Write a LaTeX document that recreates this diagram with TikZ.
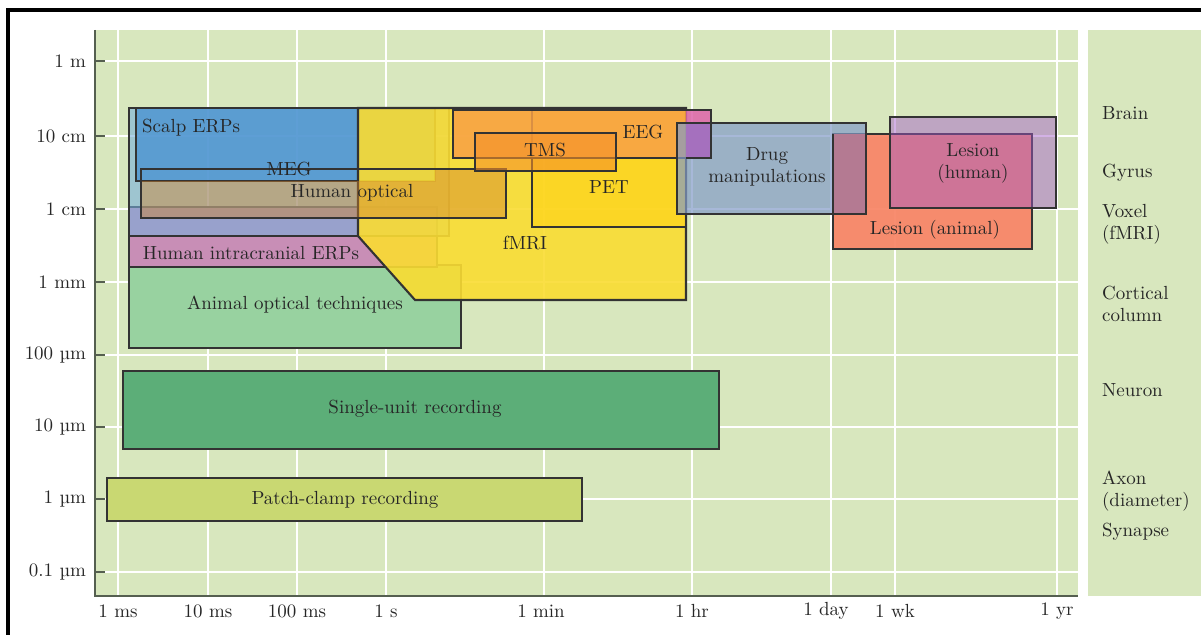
\documentclass[tikz,border=0pt]{standalone}
\usepackage{fontspec}
\usepackage{tikz}
\usetikzlibrary{shadows}

\definecolor{plotbg}{RGB}{216,231,190}
\definecolor{axisgray}{RGB}{85,95,80}
\definecolor{patchc}{RGB}{201,216,114}
\definecolor{singleu}{RGB}{92,174,120}
\definecolor{animalo}{RGB}{152,210,160}
\definecolor{hintra}{RGB}{200,142,182}
\definecolor{megc}{RGB}{120,175,220}
\definecolor{scalpc}{RGB}{80,150,210}
\definecolor{fmric}{RGB}{250,220,50}
\definecolor{hoptc}{RGB}{209,131,44}
\definecolor{petc}{RGB}{255,210,20}
\definecolor{eegc}{RGB}{248,160,70}
\definecolor{eegpink}{RGB}{222,100,170}
\definecolor{eegdrug}{RGB}{165,112,190}
\definecolor{tmsc}{RGB}{245,145,40}
\definecolor{drugc}{RGB}{130,155,200}
\definecolor{druglesa}{RGB}{180,122,146}
\definecolor{lesac}{RGB}{248,135,105}
\definecolor{leshc}{RGB}{162,91,200}

\tikzset{
    method/.style={draw=black!80, line width=.8pt},
    shadowed/.style={drop shadow={shadow xshift=.7pt, shadow yshift=-.7pt, opacity=.35}},
    gridline/.style={white, line width=1pt},
    axisline/.style={axisgray, line width=.7pt},
    lbl/.style={text=black!85, inner sep=1pt}
}

\begin{document}
\begin{tikzpicture}[x=0.02cm, y=-0.02cm, font=\fontsize{10.8pt}{12.5pt}\selectfont]

    \useasboundingbox (0,0) rectangle (1201,635);
    \fill[white] (0,0) rectangle (1201,635);

    \fill[plotbg] (95,30) rectangle (1078,596);
    \fill[plotbg] (1088,30) rectangle (1201,596);

    \foreach \x in {118,208,297,386,544,692,831,895,1057}
        \draw[gridline] (\x,30) -- (\x,596);
    \foreach \y in {61,136,209,282,355,427,499,572}
        \draw[gridline] (95,\y) -- (1078,\y);

    \draw[axisline] (95,30) -- (95,596) -- (1078,596);
    \foreach \y in {61,136,209,282,355,427,499,572}
        \draw[axisline] (95,\y) -- (105,\y);

    \draw[line width=1.8pt] (8,635) -- (8,10) -- (1201,10);

    \filldraw[method, shadowed, fill=patchc] (107,478) rectangle (582,521);
    \filldraw[method, shadowed, fill=singleu] (123,371) rectangle (719,449);
    \filldraw[method, shadowed, fill=animalo] (129,265) rectangle (461,348);
    \filldraw[method, fill=hintra] (129,207) rectangle (437,267);

    \filldraw[method, fill=megc, fill opacity=.6] (129,108) rectangle (449,236);
    \filldraw[method, fill=scalpc, fill opacity=.85] (136,108) rectangle (435,181);

    \filldraw[method, line width=1.2pt, fill=fmric, fill opacity=.9]
        (358,108) -- (686,108) -- (686,300) -- (415,300) -- (358,236) -- cycle;

    % human optical sits under the scalp box on the left
    \fill[hoptc, opacity=.45] (141,181) rectangle (506,218);
    \fill[hoptc, opacity=.45] (435,169) rectangle (506,181);
    \draw[method] (141,169) rectangle (506,218);

    \filldraw[method, fill=petc, fill opacity=.6] (532,110) rectangle (686,227);

    \fill[eegc, opacity=.85] (453,110) rectangle (686,158);
    \fill[eegpink, opacity=.85] (686,110) rectangle (711,158);
    \draw[method] (453,110) rectangle (711,158);
    \filldraw[method, fill=tmsc, fill opacity=.6] (475,133) rectangle (616,171);

    \filldraw[method, fill=lesac, fill opacity=.95] (833,134) rectangle (1032,249);
    \fill[drugc, opacity=.7] (677,123) rectangle (866,214);
    \fill[eegdrug] (686,123) rectangle (711,158);
    \fill[druglesa] (833,134) rectangle (866,214);
    \draw[method] (677,123) rectangle (866,214);
    \draw[method] (686,110) -- (711,110) -- (711,158) -- (686,158);
    \draw[method] (833,134) -- (833,249);
    \filldraw[method, fill=leshc, fill opacity=.47] (890,117) rectangle (1056,208);

    \node[lbl, anchor=west] (scalp) at (140,128) {Scalp ERPs};
    \node[lbl] (meg) at (289,169) {MEG};
    \node[lbl] (hopt) at (352,193) {Human optical};
    \node[lbl] (hintra) at (251,253) {Human intracranial ERPs};
    \node[lbl] (aopt) at (295,305) {Animal optical techniques};
    \node[lbl] (fmri) at (525,243) {fMRI};
    \node[lbl] (pet) at (609,187) {PET};
    \node[lbl] (tms) at (545,150) {TMS};
    \node[lbl] (eeg) at (643,132) {EEG};
    \node[lbl, align=center] (drug) at (767,167) {Drug\\manipulations};
    \node[lbl, align=center] (lesh) at (973,163) {Lesion\\(human)};
    \node[lbl] (lesa) at (935,230) {Lesion (animal)};
    \node[lbl] (single) at (415,409) {Single-unit recording};
    \node[lbl] (patch) at (345,500) {Patch-clamp recording};

    \foreach \y/\txt in {61/1 m, 136/10 cm, 209/1 cm, 282/1 mm, 355/100 µm, 427/10 µm, 499/1 µm, 572/0.1 µm}
        \node[lbl, anchor=east] (ylab\y) at (88,\y) {\txt};

    \foreach \x/\txt in {118/1 ms, 208/10 ms, 297/100 ms, 386/1 s, 541/1 min, 692/1 hr, 826/1 day, 895/1 wk, 1057/1 yr}
        \node[lbl] (xlab\x) at (\x,611) {\txt};

    \node[lbl, anchor=west] (brain) at (1100,113) {Brain};
    \node[lbl, anchor=west] (gyrus) at (1100,173) {Gyrus};
    \node[lbl, anchor=west, align=left] (voxel) at (1100,224) {Voxel\\(fMRI)};
    \node[lbl, anchor=west, align=left] (column) at (1100,304) {Cortical\\column};
    \node[lbl, anchor=west] (neuron) at (1100,390) {Neuron};
    \node[lbl, anchor=west, align=left] (axon) at (1100,491) {Axon\\(diameter)};
    \node[lbl, anchor=west] (synapse) at (1100,532) {Synapse};

\end{tikzpicture}
\end{document}
